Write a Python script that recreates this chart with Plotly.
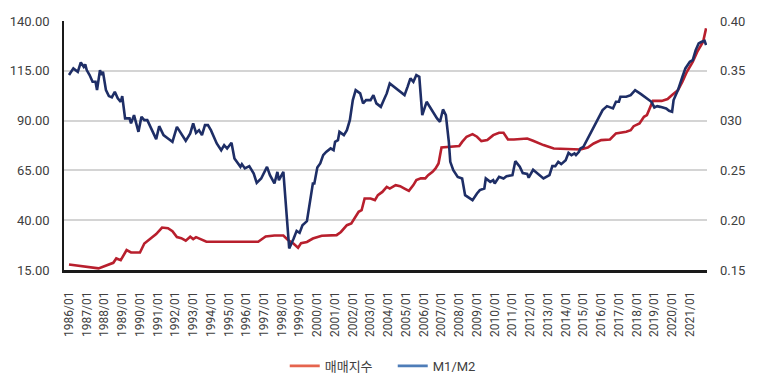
import plotly.graph_objects as go

# 매매지수 (left axis)
red_dates = ["1986-01", "1987-09", "1988-07", "1988-09", "1988-12", "1989-04", "1989-07", "1990-01",
             "1990-04", "1990-09", "1990-12", "1991-04", "1991-08", "1991-11", "1992-02", "1992-05",
             "1992-08", "1992-11", "1993-01", "1993-03", "1993-10", "1996-09", "1997-02", "1997-08",
             "1998-02", "1998-05", "1998-09", "1998-12", "1999-02", "1999-06", "1999-10", "2000-04",
             "2001-02", "2001-05", "2001-09", "2001-12", "2002-03", "2002-05", "2002-07", "2002-09",
             "2003-01", "2003-04", "2003-06", "2003-09", "2003-12", "2004-02", "2004-06", "2004-09",
             "2004-12", "2005-03", "2005-06", "2005-08", "2005-11", "2006-02", "2006-04", "2006-07",
             "2006-09", "2006-11", "2007-01", "2007-05", "2008-01", "2008-03", "2008-06", "2008-10",
             "2009-01", "2009-04", "2009-08", "2009-12", "2010-04", "2010-07", "2010-10", "2011-02",
             "2011-11", "2012-03", "2012-10", "2013-05", "2014-02", "2014-11", "2015-04", "2015-08",
             "2016-01", "2016-07", "2016-11", "2017-06", "2017-09", "2017-11", "2018-03", "2018-06",
             "2018-08", "2018-11", "2018-12", "2019-06", "2019-10", "2020-01", "2020-05", "2020-08",
             "2020-11", "2021-03", "2021-06", "2021-10", "2021-12"]
red_values = [17.8, 15.8, 18.6, 20.8, 19.9, 25.0, 23.8, 23.8,
              28.3, 31.5, 33.0, 36.3, 36.0, 34.5, 31.5, 31.0,
              29.7, 31.7, 30.5, 31.5, 29.2, 29.2, 31.8, 32.3,
              32.3, 30.2, 28.2, 26.2, 28.5, 29.1, 30.8, 32.2,
              32.5, 34.1, 37.5, 38.4, 41.7, 44.2, 45.0, 50.9,
              50.9, 50.1, 52.6, 54.2, 56.7, 55.9, 57.6, 57.1,
              55.9, 54.7, 57.6, 60.1, 61.0, 61.0, 62.6, 64.3,
              66.0, 68.5, 76.5, 76.8, 77.2, 79.3, 81.9, 83.2,
              81.9, 79.7, 80.2, 82.7, 83.9, 83.9, 80.5, 80.5,
              81.0, 79.9, 77.7, 76.0, 75.7, 75.5, 76.5, 78.5,
              80.2, 80.5, 83.6, 84.4, 85.2, 87.2, 88.6, 91.9,
              92.8, 97.8, 99.9, 99.9, 100.8, 102.8, 105.3, 109.5,
              114.5, 119.5, 124.5, 129.6, 136.3]

# M1/M2 (right axis)
blue_dates = ["1986-01", "1986-04", "1986-07", "1986-09", "1986-11", "1986-12", "1987-01", "1987-03",
              "1987-05", "1987-07", "1987-08", "1987-10", "1987-11", "1987-12", "1988-02", "1988-04",
              "1988-06", "1988-08", "1988-10", "1988-12", "1989-01", "1989-03", "1989-06", "1989-07",
              "1989-09", "1989-12", "1990-02", "1990-04", "1990-06", "1990-10", "1990-12", "1991-02",
              "1991-05", "1991-08", "1991-11", "1992-02", "1992-05", "1992-08", "1992-11", "1993-01",
              "1993-03", "1993-05", "1993-07", "1993-09", "1993-11", "1994-01", "1994-05", "1994-08",
              "1994-10", "1994-12", "1995-03", "1995-05", "1995-09", "1995-10", "1995-12", "1996-03",
              "1996-06", "1996-08", "1996-11", "1997-03", "1997-05", "1997-08", "1997-10", "1997-11",
              "1998-02", "1998-06", "1998-09", "1998-11", "1999-01", "1999-03", "1999-06", "1999-08",
              "1999-10", "1999-11", "2000-01", "2000-03", "2000-05", "2000-07", "2000-10", "2000-12",
              "2001-01", "2001-03", "2001-04", "2001-07", "2001-09", "2001-11", "2002-01", "2002-03",
              "2002-06", "2002-08", "2002-10", "2003-01", "2003-03", "2003-05", "2003-08", "2003-10",
              "2003-12", "2004-02", "2004-06", "2004-09", "2004-12", "2005-02", "2005-04", "2005-06",
              "2005-08", "2005-10", "2005-12", "2006-03", "2006-05", "2006-08", "2006-10", "2006-12",
              "2007-02", "2007-04", "2007-06", "2007-07", "2007-09", "2007-12", "2008-03", "2008-05",
              "2008-07", "2008-10", "2009-01", "2009-03", "2009-06", "2009-07", "2009-10", "2009-12",
              "2010-01", "2010-04", "2010-07", "2010-09", "2011-01", "2011-03", "2011-06", "2011-08",
              "2011-11", "2011-12", "2012-03", "2012-06", "2012-10", "2013-02", "2013-04", "2013-06",
              "2013-08", "2013-10", "2014-01", "2014-03", "2014-05", "2014-07", "2014-08", "2014-10",
              "2014-11", "2015-01", "2015-04", "2015-08", "2015-12", "2016-02", "2016-05", "2016-09",
              "2016-11", "2017-01", "2017-02", "2017-06", "2017-09", "2017-12", "2018-04", "2018-08",
              "2018-11", "2019-01", "2019-03", "2019-05", "2019-09", "2019-11", "2020-01", "2020-02",
              "2020-05", "2020-08", "2020-10", "2021-01", "2021-03", "2021-05", "2021-07", "2021-09",
              "2021-11", "2021-12"]
blue_values = [0.3457, 0.3524, 0.3490, 0.3584, 0.3540, 0.3564, 0.3507, 0.3457,
               0.3390, 0.3390, 0.3306, 0.3507, 0.3457, 0.3490, 0.3306, 0.3246,
               0.3233, 0.3289, 0.3223, 0.3189, 0.3246, 0.3022, 0.3022, 0.2972,
               0.3055, 0.2887, 0.3038, 0.3005, 0.3005, 0.2871, 0.2814, 0.2944,
               0.2854, 0.2821, 0.2787, 0.2937, 0.2871, 0.2797, 0.2871, 0.2972,
               0.2877, 0.2904, 0.2854, 0.2955, 0.2955, 0.2904, 0.2771, 0.2703,
               0.2754, 0.2720, 0.2777, 0.2620, 0.2536, 0.2563, 0.2520, 0.2543,
               0.2469, 0.2375, 0.2419, 0.2536, 0.2452, 0.2369, 0.2485, 0.2402,
               0.2485, 0.1716, 0.1817, 0.1893, 0.1873, 0.1950, 0.1990, 0.2184,
               0.2369, 0.2369, 0.2528, 0.2570, 0.2653, 0.2686, 0.2721, 0.2703,
               0.2787, 0.2804, 0.2887, 0.2854, 0.2904, 0.3005, 0.3206, 0.3306,
               0.3273, 0.3173, 0.3206, 0.3206, 0.3256, 0.3173, 0.3138, 0.3206,
               0.3273, 0.3373, 0.3323, 0.3289, 0.3256, 0.3339, 0.3424, 0.3390,
               0.3457, 0.3440, 0.3055, 0.3189, 0.3138, 0.3072, 0.3022, 0.2988,
               0.3112, 0.3055, 0.2787, 0.2586, 0.2503, 0.2435, 0.2419, 0.2251,
               0.2234, 0.2201, 0.2268, 0.2302, 0.2319, 0.2419, 0.2385, 0.2402,
               0.2369, 0.2435, 0.2419, 0.2442, 0.2452, 0.2593, 0.2536, 0.2473,
               0.2465, 0.2427, 0.2506, 0.2469, 0.2419, 0.2452, 0.2543, 0.2543,
               0.2586, 0.2563, 0.2603, 0.2676, 0.2653, 0.2670, 0.2653, 0.2686,
               0.2721, 0.2737, 0.2821, 0.2937, 0.3038, 0.3105, 0.3145, 0.3122,
               0.3189, 0.3189, 0.3239, 0.3239, 0.3256, 0.3306, 0.3266, 0.3223,
               0.3189, 0.3132, 0.3145, 0.3138, 0.3122, 0.3098, 0.3088, 0.3206,
               0.3306, 0.3440, 0.3524, 0.3590, 0.3607, 0.3708, 0.3775, 0.3791,
               0.3801, 0.3758]

year_ticks = [f"{y}-01-01" for y in range(1986, 2022)]
year_labels = [f"{y}/01" for y in range(1986, 2022)]

left_ticks = [15, 40, 65, 90, 115, 140]
right_ticks = [0.15, 0.20, 0.25, 0.30, 0.35, 0.40]
right_labels = ["0.15", "0.20", "0.25", "030", "0.35", "0.40"]

RED = "#B81F2D"
BLUE = "#1E2E66"
TXT = "#404040"
FONT = "Roboto, Noto Sans CJK KR, sans-serif"

fig = go.Figure()
fig.add_trace(go.Scatter(x=red_dates, y=red_values, mode="lines", name="매매지수",
                         line=dict(color=RED, width=2.6), showlegend=False, yaxis="y"))
fig.add_trace(go.Scatter(x=blue_dates, y=blue_values, mode="lines", name="M1/M2",
                         line=dict(color=BLUE, width=2.6), showlegend=False, yaxis="y2"))
# legend entries (lighter colours, as in the reference legend)
fig.add_trace(go.Scatter(x=[None], y=[None], mode="lines", name="매매지수",
                         line=dict(color="#E5644E", width=2.6)))
fig.add_trace(go.Scatter(x=[None], y=[None], mode="lines", name="M1/M2",
                         line=dict(color="#4E7DB8", width=2.6)))

# page body has an 8px margin, so the figure is 752x376 and offsets are compensated
fig.update_layout(
    width=752, height=376,
    margin=dict(l=56, r=53, t=13, b=114, autoexpand=False),
    paper_bgcolor="white", plot_bgcolor="white",
    font=dict(family=FONT, color=TXT, size=12),
    xaxis=dict(
        type="date", range=["1985-09-20", "2021-12-20"],
        tickmode="array", tickvals=year_ticks, ticktext=year_labels,
        tickangle=-90, tickfont=dict(size=12, color=TXT),
        showgrid=False, zeroline=False, automargin=False,
        showline=True, linecolor="#1a1a1a", linewidth=2.5,
        ticks="", ticklabelstandoff=14,
    ),
    yaxis=dict(
        range=[15, 140], tickmode="array", tickvals=left_ticks,
        ticktext=[f"{v:.2f}" for v in left_ticks],
        tickfont=dict(size=13, color=TXT), automargin=False,
        showgrid=True, gridcolor="#d4d4d4", gridwidth=1.5,
        zeroline=False, showline=True, linecolor="#1a1a1a", linewidth=1.5,
        ticks="", ticklabelstandoff=10,
    ),
    yaxis2=dict(
        range=[0.15, 0.40], overlaying="y", side="right",
        tickmode="array", tickvals=right_ticks, ticktext=right_labels,
        tickfont=dict(size=13, color=TXT), automargin=False,
        showgrid=False, zeroline=False, showline=False,
        ticks="", ticklabelstandoff=12,
    ),
    legend=dict(orientation="h", xref="container", yref="container",
                x=0.368, xanchor="left", y=0.048, yanchor="middle",
                font=dict(size=13, color=TXT), itemwidth=30,
                entrywidth=63, entrywidthmode="pixels",
                bgcolor="rgba(0,0,0,0)"),
)

fig.write_html("out.html")
